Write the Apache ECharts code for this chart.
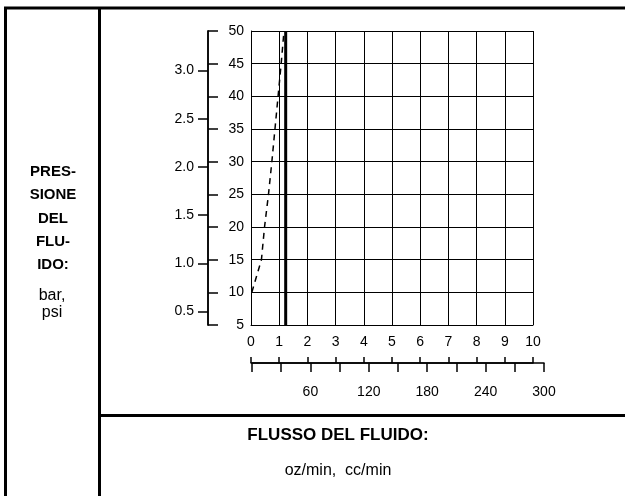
<!DOCTYPE html>
<html>
<head>
<meta charset="utf-8">
<style>
  html, body { margin: 0; padding: 0; background: #fff; }
  #chart { width: 625px; height: 496px; }
</style>
<script src="https://cdn.jsdelivr.net/npm/echarts@6/dist/echarts.min.js"></script>
</head>
<body>
<div id="chart"></div>
<script>
// Flow (oz/min) vs fluid pressure (psi) curve
const flowOz = [0.03, 0.37, 0.48, 0.62, 0.74, 0.85, 0.96, 1.07, 1.17];
const pressurePsi = [10, 15, 20, 25, 30, 35, 40, 45, 50];

// Solid reference line at a fixed flow
const limitFlowOz = 1.23;
const limitPsi = [5, 50];

// Scales
const psiMin = 5, psiMax = 50, psiStep = 5;
const barMin = 0.36, barMax = 3.41;
const barTicks = [0.5, 1.0, 1.5, 2.0, 2.5, 3.0];
const ozMin = 0, ozMax = 10, ozStep = 1;
const ccMin = 0, ccMax = 300, ccStep = 30;
const ccLabelStep = 60;

// Text
const yTitleLines = ['PRES-', 'SIONE', 'DEL', 'FLU-', 'IDO:'];
const yUnits = ['bar,', 'psi'];
const xTitle = 'FLUSSO DEL FLUIDO:';
const xUnits = 'oz/min,  cc/min';

const FONT = '"Liberation Sans", Arial, sans-serif';
const INK = '#000';

const chart = echarts.init(document.getElementById('chart'), null, { renderer: 'canvas' });

const tickText = { color: INK, fontFamily: FONT, fontSize: 14 };

const graphics = [
  // frame
  { type: 'line', shape: { x1: 4, y1: 8, x2: 625, y2: 8 }, style: { stroke: INK, lineWidth: 3 } },
  { type: 'line', shape: { x1: 5.5, y1: 7, x2: 5.5, y2: 496 }, style: { stroke: INK, lineWidth: 3 } },
  { type: 'line', shape: { x1: 99.5, y1: 7, x2: 99.5, y2: 496 }, style: { stroke: INK, lineWidth: 3 } },
  { type: 'line', shape: { x1: 99, y1: 415.5, x2: 625, y2: 415.5 }, style: { stroke: INK, lineWidth: 3 } }
];

yTitleLines.forEach((t, i) => {
  graphics.push({
    type: 'text', x: 53, y: 172 + i * 23.3,
    style: { text: t, fill: INK, font: 'bold 15px ' + FONT, align: 'center', verticalAlign: 'middle' }
  });
});
yUnits.forEach((t, i) => {
  graphics.push({
    type: 'text', x: 52, y: 296 + i * 16.5,
    style: { text: t, fill: INK, font: '16px ' + FONT, align: 'center', verticalAlign: 'middle' }
  });
});
graphics.push({
  type: 'text', x: 338, y: 435,
  style: { text: xTitle, fill: INK, font: 'bold 17px ' + FONT, align: 'center', verticalAlign: 'middle' }
});
graphics.push({
  type: 'text', x: 338, y: 471,
  style: { text: xUnits, fill: INK, font: '16px ' + FONT, align: 'center', verticalAlign: 'middle' }
});

const option = {
  backgroundColor: '#fff',
  animation: false,
  grid: [
    { left: 251, top: 31, width: 282, height: 294 },
    { left: 252, top: 330, width: 292, height: 33 }
  ],
  xAxis: [
    {
      type: 'value', gridIndex: 0, position: 'bottom',
      min: ozMin, max: ozMax, interval: ozStep,
      axisLine: { show: true, lineStyle: { color: INK, width: 1 } },
      axisTick: { show: false },
      axisLabel: Object.assign({ margin: 10 }, tickText),
      splitLine: { show: true, lineStyle: { color: INK, width: 1 } }
    },
    {
      type: 'value', gridIndex: 0, position: 'bottom', offset: 38,
      min: ozMin, max: ozMax, interval: ozStep,
      axisLine: { show: true, onZero: false, lineStyle: { color: INK, width: 1.5 } },
      axisTick: { show: true, inside: true, length: 6, lineStyle: { color: INK, width: 1.5 } },
      axisLabel: { show: false },
      splitLine: { show: false }
    },
    {
      type: 'value', gridIndex: 1, position: 'bottom',
      min: ccMin, max: ccMax, interval: ccStep,
      axisLine: { show: true, onZero: false, lineStyle: { color: INK, width: 1.5 } },
      axisTick: { show: true, inside: false, length: 9, lineStyle: { color: INK, width: 1.5 } },
      axisLabel: Object.assign({
        margin: 22,
        formatter: v => (v > 0 && v % ccLabelStep === 0) ? String(v) : ''
      }, tickText),
      splitLine: { show: false }
    }
  ],
  yAxis: [
    {
      type: 'value', gridIndex: 0, position: 'left',
      min: psiMin, max: psiMax, interval: psiStep,
      axisLine: { show: true, onZero: false, lineStyle: { color: INK, width: 1 } },
      axisTick: { show: false },
      axisLabel: Object.assign({ margin: 7 }, tickText),
      splitLine: { show: true, lineStyle: { color: INK, width: 1 } }
    },
    {
      type: 'value', gridIndex: 0, position: 'left', offset: 43,
      min: psiMin, max: psiMax, interval: psiStep,
      axisLine: { show: true, onZero: false, lineStyle: { color: INK, width: 1.5 } },
      axisTick: { show: true, inside: true, length: 10, lineStyle: { color: INK, width: 1.5 } },
      axisLabel: { show: false },
      splitLine: { show: false }
    },
    {
      type: 'value', gridIndex: 0, position: 'left', offset: 43,
      min: barMin, max: barMax,
      axisLine: { show: true, onZero: false, lineStyle: { color: INK, width: 1.5 } },
      axisTick: { show: true, inside: false, length: 10, customValues: barTicks, lineStyle: { color: INK, width: 1.5 } },
      axisLabel: Object.assign({ margin: 14, customValues: barTicks, formatter: v => v.toFixed(1) }, tickText),
      splitLine: { show: false }
    },
    {
      type: 'value', gridIndex: 1, show: false, min: 0, max: 1
    }
  ],
  series: [
    {
      type: 'line', xAxisIndex: 0, yAxisIndex: 0,
      data: flowOz.map((x, i) => [x, pressurePsi[i]]),
      showSymbol: false, smooth: false,
      lineStyle: { color: INK, width: 1.5, type: [6, 5] }
    },
    {
      type: 'line', xAxisIndex: 0, yAxisIndex: 0,
      data: limitPsi.map(p => [limitFlowOz, p]),
      showSymbol: false,
      lineStyle: { color: INK, width: 3 }
    }
  ],
  graphic: graphics
};

chart.setOption(option);
</script>
</body>
</html>
